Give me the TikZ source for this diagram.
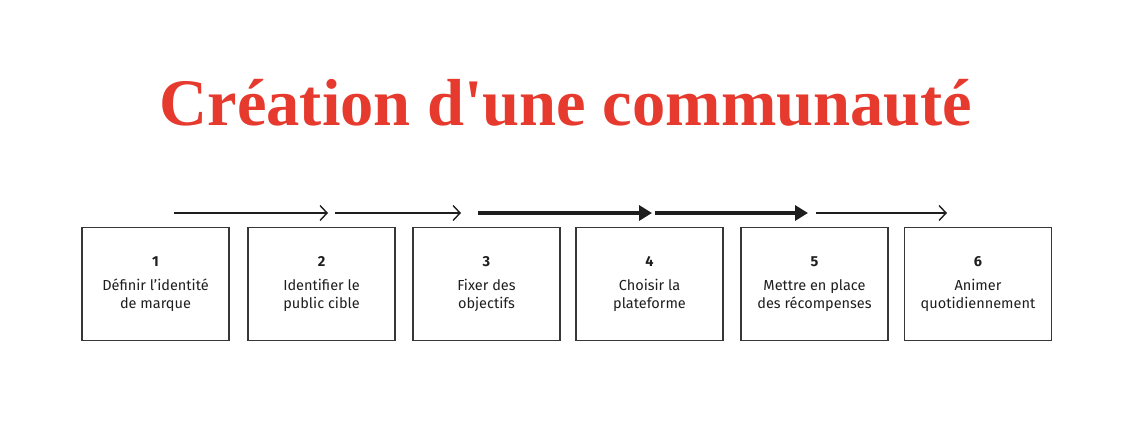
\documentclass[tikz,border=0pt]{standalone}
\usepackage{fontspec}
\setmainfont{Fira Sans}
\newfontfamily\titlefont{Liberation Serif}
\usetikzlibrary{positioning, arrows.meta}
\definecolor{titlered}{RGB}{230,58,46}
\definecolor{boxline}{RGB}{55,55,55}
\definecolor{inktext}{RGB}{30,30,30}

\begin{document}
\begin{tikzpicture}[
    x=1pt, y=-1pt,
    stepbox/.style={
        rectangle,
        draw=boxline,
        line width=1.2pt,
        minimum width=147pt,
        minimum height=113pt,
        align=center,
        text=inktext,
        font=\fontsize{14.5}{17.5}\selectfont
    },
    thinarrow/.style={-{Straight Barb[length=7pt, width=15pt, line width=1.4pt]}, line width=1.4pt, inktext},
    thickarrow/.style={-{Triangle[length=13pt, width=15pt]}, line width=4pt, inktext},
    title/.style={font=\titlefont\bfseries\fontsize{66.5}{70}\selectfont, titlered}
]
\useasboundingbox (0,0) rectangle (1130,436);

% === Title ===
\node[title, anchor=base] (title) at (566, 125) {Création d'une communauté};

% === Steps ===
\node[stepbox] (s1) at (155.5, 284) {\textbf{1}\\[7pt]Définir l'identité\\de marque};
\node[stepbox] (s2) at (321.5, 284) {\textbf{2}\\[7pt]Identifier le\\public cible};
\node[stepbox] (s3) at (486.5, 284) {\textbf{3}\\[7pt]Fixer des\\objectifs};
\node[stepbox] (s4) at (649.5, 284) {\textbf{4}\\[7pt]Choisir la\\plateforme};
\node[stepbox] (s5) at (814.5, 284) {\textbf{5}\\[7pt]Mettre en place\\des récompenses};
\node[stepbox] (s6) at (978, 284) {\textbf{6}\\[7pt]Animer\\quotidiennement};

% === Arrows above the steps ===
\coordinate (a1) at (174, 213);
\coordinate (a2) at (328, 213);
\coordinate (a3) at (335, 213);
\coordinate (a4) at (461, 213);
\coordinate (a5) at (478, 213);
\coordinate (a6) at (652, 213);
\coordinate (a7) at (655, 213);
\coordinate (a8) at (808, 213);
\coordinate (a9) at (816, 213);
\coordinate (a10) at (947, 213);

\draw[thinarrow] (a1) -- (a2);
\draw[thinarrow] (a3) -- (a4);
\draw[thickarrow] (a5) -- (a6);
\draw[thickarrow] (a7) -- (a8);
\draw[thinarrow] (a9) -- (a10);

\end{tikzpicture}
\end{document}
